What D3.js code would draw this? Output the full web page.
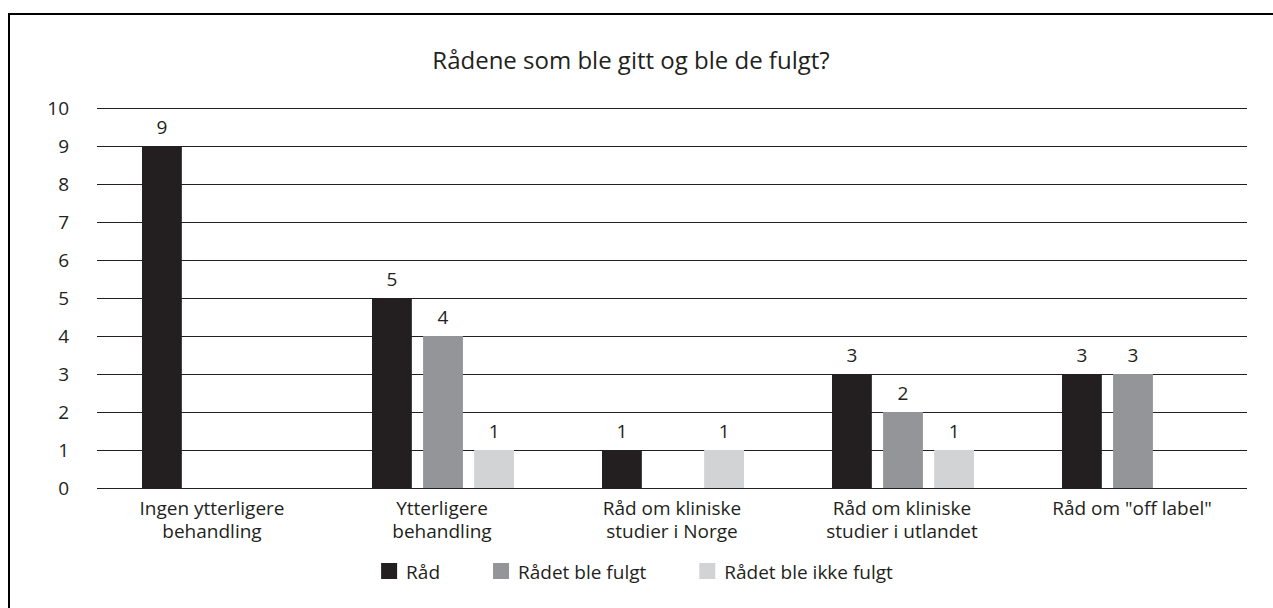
<!DOCTYPE html>
<html>
<head>
<meta charset="utf-8">
<script src="https://cdn.jsdelivr.net/npm/d3@7"></script>
<style>
  body { margin: 0; background: #fff; }
  svg text { font-family: "Open Sans", sans-serif; fill: #231f20; }
</style>
</head>
<body>
<svg width="1273" height="608"></svg>
<script>

let categories = [
    ['Ingen ytterligere', 'behandling'],
    ['Ytterligere', 'behandling'],
    ['Råd om kliniske', 'studier i Norge'],
    ['Råd om kliniske', 'studier i utlandet'],
    ['Råd om "off label"']
];
let seriesNames = ['Råd', 'Rådet ble fulgt', 'Rådet ble ikke fulgt'];
let raad       = [9, 5, 1, 3, 3];
let fulgt      = [null, 4, null, 2, 3];
let ikkeFulgt  = [null, 1, 1, 1, null];
let yTicks = [0, 1, 2, 3, 4, 5, 6, 7, 8, 9, 10];
let title = 'Rådene som ble gitt og ble de fulgt?';

let colors = ['#231f20', '#939598', '#d1d3d4'];
let values = [raad, fulgt, ikkeFulgt];

let svg = d3.select('svg');
let margin = { top: 108, right: 26, bottom: 120, left: 97 };
let width = +svg.attr('width');
let height = +svg.attr('height');
let fontSize = '19px';

// frame (only top and left edges are visible in the picture)
svg.append('path')
    .attr('d', 'M9,608V14H1273')
    .attr('fill', 'none')
    .attr('stroke', '#000')
    .attr('stroke-width', 2);

svg.append('text')
    .attr('x', 631)
    .attr('y', 69)
    .attr('text-anchor', 'middle')
    .style('font-size', '24px')
    .text(title);

let x0 = d3.scaleBand()
    .domain(d3.range(categories.length))
    .range([margin.left, width - margin.right]);

let x1 = d3.scaleBand()
    .domain(d3.range(seriesNames.length))
    .range([45, 187])
    .paddingInner(0.22);

let y = d3.scaleLinear()
    .domain([0, 10])
    .range([height - margin.bottom, margin.top]);

// gridlines
svg.append('g')
    .selectAll('line')
    .data(yTicks)
    .enter().append('line')
    .attr('x1', margin.left)
    .attr('x2', width - margin.right)
    .attr('y1', d => Math.round(y(d)) + 0.5)
    .attr('y2', d => Math.round(y(d)) + 0.5)
    .attr('stroke', '#231f20')
    .attr('stroke-width', 1);

// y axis labels
let yAxis = svg.append('g')
    .attr('transform', 'translate(' + margin.left + ',0)')
    .call(d3.axisLeft(y).tickValues(yTicks).tickSize(0).tickPadding(28));
yAxis.select('.domain').remove();
yAxis.selectAll('text')
    .style('font-size', fontSize)
    .style('font-family', '"Open Sans", sans-serif')
    .attr('fill', '#231f20');

// bars
let rows = [];
values.forEach((vals, s) => vals.forEach((v, c) => {
    if (v != null) rows.push({ s: s, c: c, v: v });
}));

let bar = svg.append('g')
    .selectAll('g')
    .data(rows)
    .enter().append('g')
    .attr('transform', d => 'translate(' + (x0(d.c) + x1(d.s)) + ',0)');

bar.append('rect')
    .attr('y', d => y(d.v))
    .attr('height', d => y(0) - y(d.v))
    .attr('width', x1.bandwidth())
    .attr('fill', d => colors[d.s]);

bar.append('text')
    .attr('x', x1.bandwidth() / 2)
    .attr('y', d => y(d.v) - 12)
    .attr('text-anchor', 'middle')
    .style('font-size', fontSize)
    .text(d => d.v);

// category labels
svg.append('g')
    .selectAll('text')
    .data(categories)
    .enter().append('text')
    .attr('x', (d, i) => x0(i) + x0.bandwidth() / 2)
    .attr('y', 515)
    .attr('text-anchor', 'middle')
    .style('font-size', fontSize)
    .selectAll('tspan')
    .data(d => d)
    .enter().append('tspan')
    .attr('x', function() { return this.parentNode.getAttribute('x'); })
    .attr('dy', (d, i) => i ? 23 : 0)
    .text(d => d);

// legend
let legend = svg.append('g');
let gap = 53;
let lx = 0;
seriesNames.forEach((name, i) => {
    let item = legend.append('g').attr('transform', 'translate(' + lx + ',0)');
    item.append('rect')
        .attr('y', 563)
        .attr('width', 16)
        .attr('height', 16)
        .attr('fill', colors[i]);
    let t = item.append('text')
        .attr('x', 25)
        .attr('y', 579)
        .style('font-size', fontSize)
        .text(name);
    lx += 25 + t.node().getComputedTextLength() + gap;
});
let lw = lx - gap;
legend.attr('transform', 'translate(' + (637 - lw / 2) + ',0)');

</script>
</body>
</html>
